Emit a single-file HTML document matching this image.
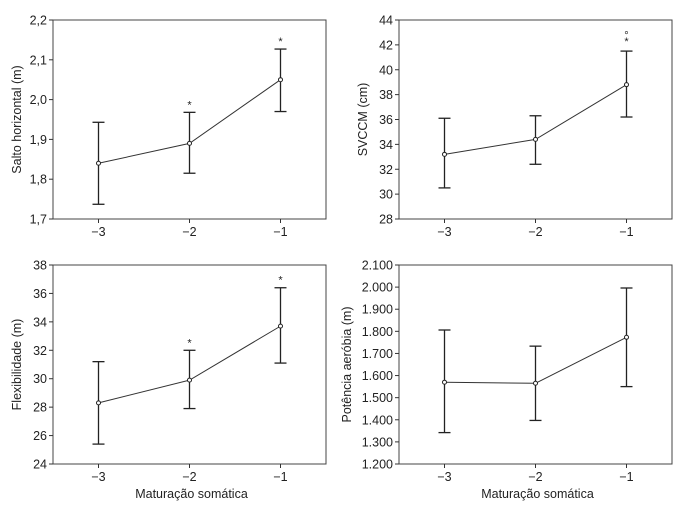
<!DOCTYPE html>
<html><head><meta charset="utf-8"><style>
body{margin:0;background:#fff}
svg{display:block;font-family:"Liberation Sans",sans-serif}
</style></head><body>
<svg id="chart" width="700" height="509" viewBox="0 0 700 509"></svg>
<script>
const categories = [-3, -2, -1];
const saltoMean = [1.84, 1.89, 2.05];
const saltoLow = [1.737, 1.815, 1.97];
const saltoHigh = [1.943, 1.968, 2.127];
const saltoMarks = ["", "*", "*"];
const saltoTicks = ["1,7","1,8","1,9","2,0","2,1","2,2"];
const svccmMean = [33.2, 34.4, 38.8];
const svccmLow = [30.5, 32.4, 36.2];
const svccmHigh = [36.1, 36.3, 41.5];
const svccmMarks = ["", "", "°*"];
const svccmTicks = ["28","30","32","34","36","38","40","42","44"];
const flexMean = [28.3, 29.9, 33.7];
const flexLow = [25.4, 27.9, 31.1];
const flexHigh = [31.2, 32.0, 36.4];
const flexMarks = ["", "*", "*"];
const flexTicks = ["24","26","28","30","32","34","36","38"];
const potMean = [1570, 1565, 1773];
const potLow = [1342, 1397, 1550];
const potHigh = [1806, 1733, 1996];
const potMarks = ["", "", ""];
const potTicks = ["1.200","1.300","1.400","1.500","1.600","1.700","1.800","1.900","2.000","2.100"];

const NS="http://www.w3.org/2000/svg";
const svg=document.getElementById('chart');
function mk(tag,attrs,parent){const e=document.createElementNS(NS,tag);for(const k in attrs)e.setAttribute(k,attrs[k]);(parent||svg).appendChild(e);return e;}

function panel(name,box,ymin,ymax,ticks,mean,low,high,marks,ytitle,xtitle,titleOff){
  const g=mk('g',{});
  
  
  const {l,r,t,b}=box;
  const xs=v=>l+(v+3.5)/3*(r-l);
  const ys=v=>b-(v-ymin)/(ymax-ymin)*(b-t);
  const frame=mk('rect',{x:l,y:t,width:r-l,height:b-t,fill:'none',stroke:'#444','stroke-width':1},g);
  
  
  ticks.forEach((tk,i)=>{
    const v=ymin+i*(ymax-ymin)/(ticks.length-1);
    mk('line',{x1:l-4,x2:l,y1:ys(v),y2:ys(v),stroke:'#333'},g);
    const tx=mk('text',{x:l-6,y:ys(v)+4.5,'text-anchor':'end','font-size':12.5,fill:'#222'},g);
    tx.textContent=tk;
    
    
  });
  categories.forEach(c=>{
    mk('line',{x1:xs(c),x2:xs(c),y1:b,y2:b+4,stroke:'#333'},g);
    const tx=mk('text',{x:xs(c),y:b+17,'text-anchor':'middle','font-size':12.5,fill:'#222'},g);
    tx.textContent='\u2212'+Math.abs(c);
    
    
  });
  const pts=categories.map((c,i)=>xs(c)+','+ys(mean[i])).join(' ');
  const ln=mk('polyline',{points:pts,fill:'none',stroke:'#333','stroke-width':1},g);
  
  
  categories.forEach((c,i)=>{
    const x=xs(c);
    const eb=mk('g',{stroke:'#222','stroke-width':1.3},g);
    
    
    mk('line',{x1:x,x2:x,y1:ys(low[i]),y2:ys(high[i])},eb);
    mk('line',{x1:x-6,x2:x+6,y1:ys(low[i]),y2:ys(low[i])},eb);
    mk('line',{x1:x-6,x2:x+6,y1:ys(high[i]),y2:ys(high[i])},eb);
    const p=mk('circle',{cx:x,cy:ys(mean[i]),r:2,fill:'#fff',stroke:'#222','stroke-width':1},g);
    
    
    if(marks[i]){
      if(marks[i]==='°*'){
        const a=mk('text',{x:x,y:ys(high[i])-6,'text-anchor':'middle','font-size':11,fill:'#222'},g);a.textContent='*';
        
        const d=mk('text',{x:x,y:ys(high[i])-12,'text-anchor':'middle','font-size':11,fill:'#222'},g);d.textContent='°';
        
      } else {
        const a=mk('text',{x:x,y:ys(high[i])-4,'text-anchor':'middle','font-size':11,fill:'#222'},g);a.textContent=marks[i];
        
      }
    }
  });
  const yt=mk('text',{x:0,y:0,'text-anchor':'middle','font-size':12.5,fill:'#222',transform:`translate(${l-titleOff},${(t+b)/2}) rotate(-90)`},g);
  yt.textContent=ytitle;
  
  
  if(xtitle){
    const xt=mk('text',{x:(l+r)/2+2,y:b+34,'text-anchor':'middle','font-size':12.5,fill:'#222'},g);
    xt.textContent=xtitle;
    
    
  }
}
panel('panel-salto',{l:53,r:326,t:20,b:219},1.7,2.2,saltoTicks,saltoMean,saltoLow,saltoHigh,saltoMarks,'Salto horizontal (m)','',32);
panel('panel-svccm',{l:399,r:672,t:20,b:219},28,44,svccmTicks,svccmMean,svccmLow,svccmHigh,svccmMarks,'SVCCM (cm)','',32);
panel('panel-flex',{l:53,r:326,t:265,b:464},24,38,flexTicks,flexMean,flexLow,flexHigh,flexMarks,'Flexibilidade (m)','Maturação somática',32);
panel('panel-potencia',{l:399,r:672,t:265,b:464},1200,2100,potTicks,potMean,potLow,potHigh,potMarks,'Potência aeróbia (m)','Maturação somática',48);
</script>
</body></html>
